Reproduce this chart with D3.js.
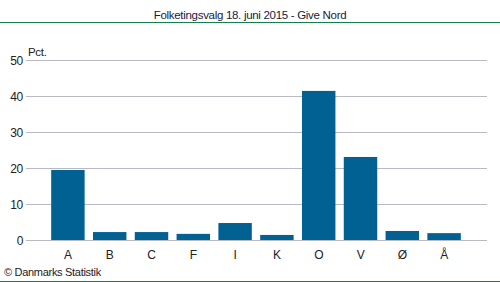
<!DOCTYPE html>
<html><head><meta charset="utf-8">
<script src="https://cdn.jsdelivr.net/npm/d3@7"></script>
<style>body{margin:0;background:#fff}svg{display:block}text{font-family:"Liberation Sans",Arial,sans-serif;letter-spacing:-0.3px}</style>
</head><body><svg id="c" width="500" height="282"></svg>
<script>
const categories = ["A","B","C","F","I","K","O","V","Ø","Å"];
const values = [19.4, 2.2, 2.2, 1.7, 4.7, 1.4, 41.3, 23.0, 2.5, 1.9];
const yTicks = [0,10,20,30,40,50];
const title = "Folketingsvalg 18. juni 2015 - Give Nord";

const svg = d3.select("#c");
const W = 500, H = 282;
svg.append("rect").attr("width",W).attr("height",H).attr("fill","#fff");
svg.append("text").attr("x",250).attr("y",19).attr("text-anchor","middle")
  .attr("font-size",11.5).attr("fill","#1a1a40").text(title);
svg.append("line").attr("x1",0).attr("x2",W).attr("y1",22.5).attr("y2",22.5)
  .attr("stroke","#168049").attr("stroke-width",1);
svg.append("line").attr("x1",0).attr("x2",W).attr("y1",281.5).attr("y2",281.5)
  .attr("stroke","#168049").attr("stroke-width",1);

const y = d3.scaleLinear().domain([0,50]).range([240,59.5]);
const x = d3.scaleBand().domain(categories).range([47,465]).paddingInner(0.2).paddingOuter(0.1);

const grid = svg.append("g");
grid.selectAll("line").data(yTicks).join("line")
  .attr("x1",26).attr("x2",487)
  .attr("y1",d=>Math.round(y(d))+0.5).attr("y2",d=>Math.round(y(d))+0.5)
  .attr("stroke","#b9b9c4").attr("stroke-width",1);
grid.selectAll("text").data(yTicks).join("text")
  .attr("x",23).attr("y",d=>y(d)+5).attr("text-anchor","end")
  .attr("font-size",12).attr("fill","#222").text(d=>d);

svg.append("text").attr("x",28).attr("y",56).attr("font-size",11.5).attr("fill","#222").text("Pct.");

svg.append("g").selectAll("rect").data(values).join("rect")
  .attr("x",(d,i)=>x(categories[i])).attr("width",x.bandwidth())
  .attr("y",d=>y(d)).attr("height",d=>y(0)-y(d))
  .attr("fill","#006192");

svg.append("g").selectAll("text").data(categories).join("text")
  .attr("x",d=>x(d)+x.bandwidth()/2).attr("y",258.5).attr("text-anchor","middle")
  .attr("font-size",12).attr("fill","#222").text(d=>d);

svg.append("text").attr("x",4).attr("y",275.5).attr("font-size",11).attr("fill","#222").text("© Danmarks Statistik");
</script></body></html>
